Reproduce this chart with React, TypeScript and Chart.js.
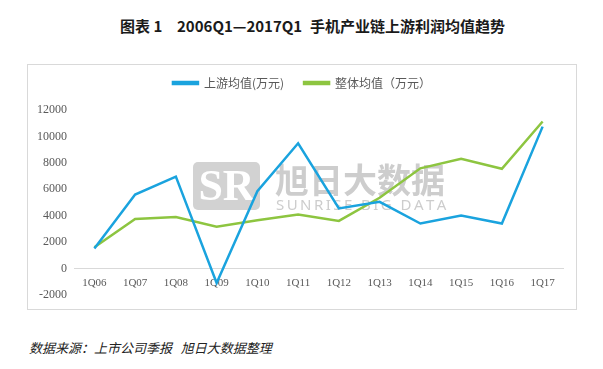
import React, { useEffect, useRef } from "react";
import { Chart, registerables } from "chart.js";

Chart.register(...registerables);

const categories = ["1Q06", "1Q07", "1Q08", "1Q09", "1Q10", "1Q11", "1Q12", "1Q13", "1Q14", "1Q15", "1Q16", "1Q17"];
const upstreamAvg = [1500, 5600, 6950, -1100, 5850, 9480, 4540, 5040, 3400, 4000, 3400, 10740];
const overallAvg = [1600, 3750, 3900, 3150, 3650, 4080, 3600, 5350, 7580, 8310, 7550, 11130];
const seriesNames = ["上游均值(万元)", "整体均值（万元）"];
const yMin = -2000;
const yMax = 12000;
const yStep = 2000;

const titleParts = ["图表 1", "2006Q1—2017Q1", "手机产业链上游利润均值趋势"];
const sourceText = "数据来源：上市公司季报   旭日大数据整理";
const watermarkCn = "旭日大数据";
const watermarkEn = "SUNRISE BIG DATA";

const BLUE = "#1aa3de";
const GREEN = "#8dc540";
const LABEL = "#595959";

const watermarkPlugin = {
  id: "watermark",
  afterInit(chart: any) {
    const lg = chart.legend;
    if (lg && !lg.__patched) {
      const orig = lg.fit;
      lg.fit = function () {
        orig.call(this);
        this.height = 53;
      };
      lg.__patched = true;
    }
  },
  beforeDatasetsDraw(chart: any) {
    const ctx = chart.ctx as CanvasRenderingContext2D;
    ctx.save();
    const lx = 165, ly = 97, lw = 67, lh = 48;
    ctx.fillStyle = "#d2d2d2";
    ctx.beginPath();
    (ctx as any).roundRect ? (ctx as any).roundRect(lx, ly, lw, lh, 5) : ctx.rect(lx, ly, lw, lh);
    ctx.fill();
    ctx.fillStyle = "#ffffff";
    ctx.font = "bold 44px 'Liberation Serif'";
    ctx.textAlign = "center";
    ctx.textBaseline = "middle";
    ctx.fillText("SR", lx + lw / 2, ly + lh / 2 + 3);
    ctx.fillStyle = "#cdcdcd";
    ctx.font = "bold 34px 'Noto Sans CJK SC'";
    ctx.textAlign = "left";
    ctx.textBaseline = "middle";
    ctx.fillText(watermarkCn, 247, 115);
    ctx.font = "15px 'Noto Sans'";
    const w = ctx.measureText(watermarkEn).width;
    const sp = (168 - w) / (watermarkEn.length - 1);
    let x = 248;
    for (const ch of watermarkEn) {
      ctx.fillText(ch, x, 141);
      x += ctx.measureText(ch).width + sp;
    }
    ctx.restore();
  },
};

export default function App() {
  const ref = useRef<HTMLCanvasElement>(null);
  useEffect(() => {
    if (!ref.current) return;
    const chart = new Chart(ref.current, {
      type: "line",
      data: {
        labels: categories,
        datasets: [
          { label: seriesNames[0], data: upstreamAvg, borderColor: BLUE, backgroundColor: BLUE, borderWidth: 2.5, pointRadius: 0, tension: 0 },
          { label: seriesNames[1], data: overallAvg, borderColor: GREEN, backgroundColor: GREEN, borderWidth: 2.5, pointRadius: 0, tension: 0 },
        ],
      },
      options: {
        responsive: false,
        animation: false,
        devicePixelRatio: 1,
        layout: { padding: { top: -8, right: 0, bottom: 13, left: 0 } },
        plugins: {
          legend: {
            position: "top",
            align: "center",
            labels: {
              boxWidth: 25,
              boxHeight: 2,
              padding: 20,
              color: LABEL,
              font: { size: 12, family: "'Noto Sans CJK SC'" },
            },
          },
          tooltip: { enabled: false },
        },
        scales: {
          x: {
            position: { y: 0 } as any,
            offset: true,
            grid: { display: true, color: "transparent", drawTicks: false },
            border: { display: true, color: "#d9d9d9", width: 1 },
            ticks: { color: LABEL, padding: 8, font: { size: 11, family: "'Liberation Serif'" }, maxRotation: 0, autoSkip: false },
            afterFit(scale: any) { scale.height = 0; },
          },
          y: {
            min: yMin,
            max: yMax,
            grid: { display: false, drawTicks: false },
            border: { display: false },
            ticks: {
              stepSize: yStep,
              color: LABEL,
              padding: 7,
              font: { size: 12, family: "'Liberation Serif'" },
              callback: (v: any) => String(v),
            },
            afterFit(scale: any) { scale.width = 46; },
          },
          yRight: {
            position: "right",
            display: true,
            min: yMin,
            max: yMax,
            grid: { display: false, drawTicks: false },
            border: { display: false },
            ticks: { display: false },
            afterFit(scale: any) { scale.width = 13; },
          },
        },
      },
      plugins: [watermarkPlugin],
    });
    return () => chart.destroy();
  }, []);

  return (
    <div style={{ position: "absolute", left: 0, top: 0, width: 603, height: 369, background: "#fff", fontFamily: "'Noto Sans CJK SC'" }}>
      <div style={{ position: "absolute", top: 18, left: 120, fontSize: 15, lineHeight: "16px", fontWeight: "bold", color: "#1a1a1a", whiteSpace: "nowrap" }}>{titleParts[0]}</div>
      <div style={{ position: "absolute", top: 18, left: 177, fontSize: 15, lineHeight: "16px", fontWeight: "bold", color: "#1a1a1a", whiteSpace: "nowrap" }}>{titleParts[1]}</div>
      <div style={{ position: "absolute", top: 18, left: 310, fontSize: 15, lineHeight: "16px", fontWeight: "bold", color: "#1a1a1a", whiteSpace: "nowrap" }}>{titleParts[2]}</div>
      <div style={{ position: "absolute", left: 27, top: 64, width: 548, height: 244, border: "1px solid #d9d9d9" }}>
        <canvas ref={ref} width={548} height={244} style={{ display: "block", width: 548, height: 244 }} />
      </div>
      <div style={{ position: "absolute", top: 340, left: 29, fontSize: 13, lineHeight: "15px", fontStyle: "italic", color: "#222", whiteSpace: "pre" }}>{sourceText}</div>
    </div>
  );
}
